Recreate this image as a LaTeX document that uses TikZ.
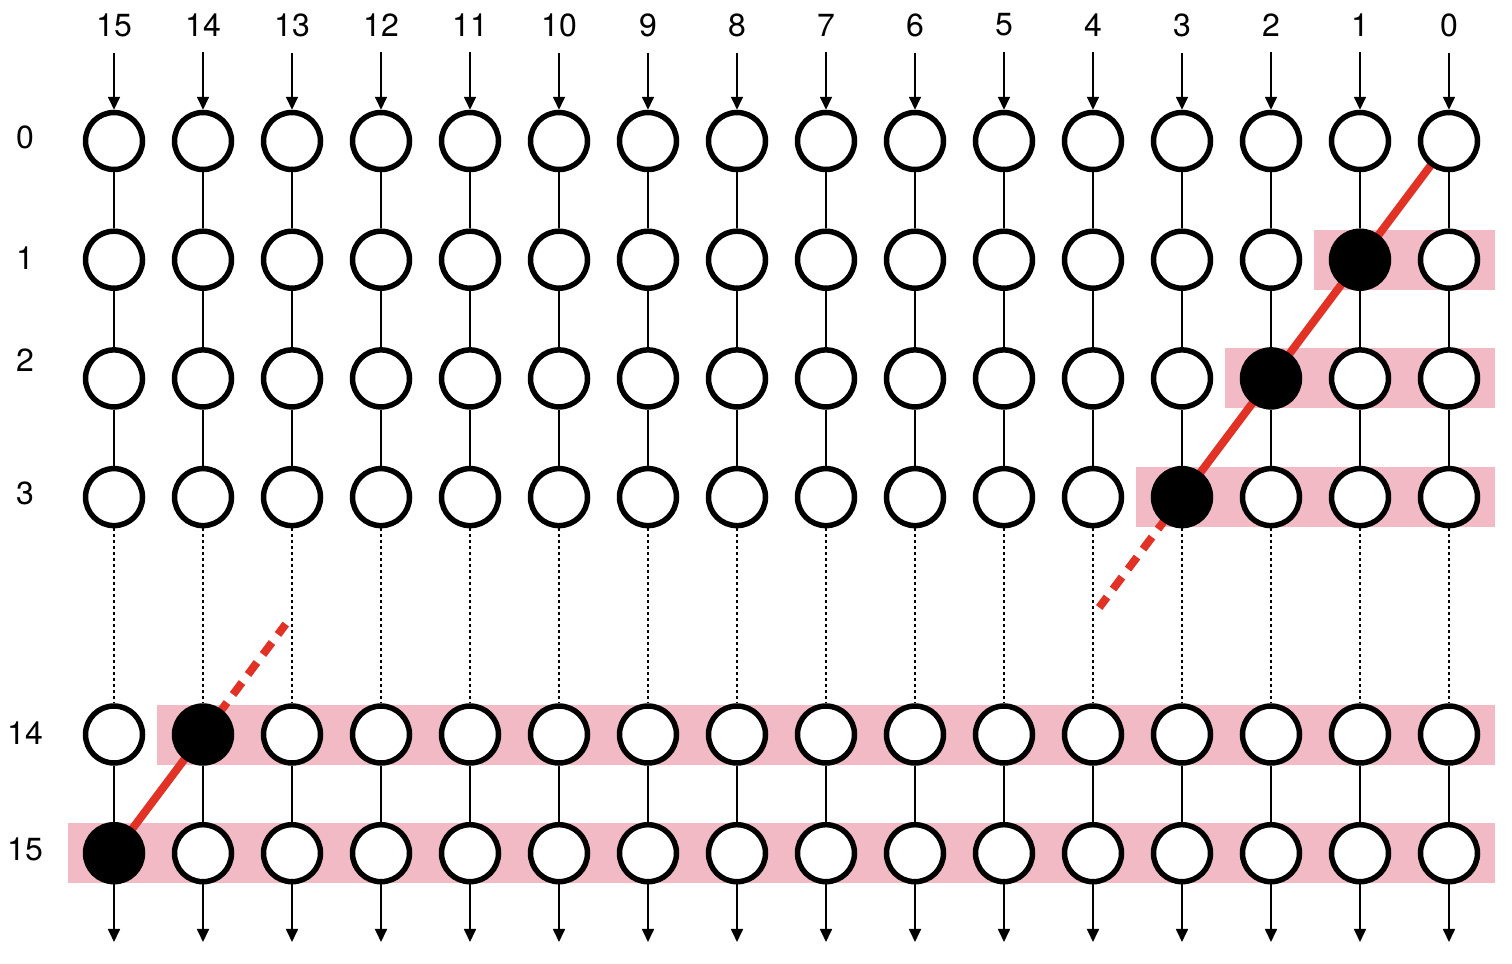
\documentclass[tikz,border=0pt]{standalone}
\usepackage{fontspec}
\setmainfont{TeX Gyre Heros}
\usepackage{tikz, xcolor}
\usetikzlibrary{shapes,arrows.meta,backgrounds}
\definecolor{bandpink}{RGB}{241,186,197}
\definecolor{hotred}{RGB}{226,50,38}

\begin{document}
\begin{tikzpicture}[x=44.5pt, y=59.35pt]
\tikzstyle{vertexw}=[circle, draw=black, fill=white, line width=2.75pt, minimum size=28.5pt, inner sep=0pt]
\tikzstyle{vertexb}=[vertexw, fill=black]
\tikzstyle{bitlabel}=[font=\fontsize{16}{19}\selectfont, inner sep=2pt]
\tikzstyle{drawstyle}=[line width=0.85pt]
\tikzstyle{dotstyle}=[line width=0.85pt, dash pattern=on 1.5pt off 1.5pt]
\tikzstyle{instyle}=[line width=0.85pt, shorten <=5.75pt, -{Triangle[length=6.5pt,width=6pt]}]
\tikzstyle{outstyle}=[line width=0.85pt, -{Triangle[length=6.5pt,width=6pt]}]
\tikzstyle{band}=[fill=bandpink]
\tikzstyle{redline}=[draw=hotred, line width=4pt]
\tikzstyle{reddash}=[redline, dash pattern=on 7.5pt off 5pt]

\useasboundingbox (-1.281,1.188) rectangle (15.708,-6.933);

\node[bitlabel] (L0) at (-1,0.03) {0};
\node[bitlabel] (L1) at (-1,-0.986) {1};
\node[bitlabel] (L2) at (-1,-1.845) {2};
\node[bitlabel] (L3) at (-1,-2.966) {3};
\node[bitlabel] (L14) at (-1,-4.987) {14};
\node[bitlabel] (L15) at (-1,-5.97) {15};

\node[bitlabel] (T15) at (0,0.977) {15};
\node[vertexw] (B15x0) at (0,0) {};
\node[vertexw] (B15x1) at (0,-1) {};
\node[vertexw] (B15x2) at (0,-2) {};
\node[vertexw] (B15x3) at (0,-3) {};
\node[vertexw] (B15x14) at (0,-5) {};
\node[vertexb] (B15x15) at (0,-6) {};
\coordinate (E15) at (0,-6.748);
\draw[instyle] (T15) -- (B15x0);
\draw[drawstyle] (B15x0) -- (B15x1);
\draw[drawstyle] (B15x1) -- (B15x2);
\draw[drawstyle] (B15x2) -- (B15x3);
\draw[dotstyle] (B15x3) -- (B15x14);
\draw[drawstyle] (B15x14) -- (B15x15);
\draw[outstyle] (B15x15) -- (E15);

\node[bitlabel] (T14) at (1,0.977) {14};
\node[vertexw] (B14x0) at (1,0) {};
\node[vertexw] (B14x1) at (1,-1) {};
\node[vertexw] (B14x2) at (1,-2) {};
\node[vertexw] (B14x3) at (1,-3) {};
\node[vertexb] (B14x14) at (1,-5) {};
\node[vertexw] (B14x15) at (1,-6) {};
\coordinate (E14) at (1,-6.748);
\draw[instyle] (T14) -- (B14x0);
\draw[drawstyle] (B14x0) -- (B14x1);
\draw[drawstyle] (B14x1) -- (B14x2);
\draw[drawstyle] (B14x2) -- (B14x3);
\draw[dotstyle] (B14x3) -- (B14x14);
\draw[drawstyle] (B14x14) -- (B14x15);
\draw[outstyle] (B14x15) -- (E14);

\node[bitlabel] (T13) at (2,0.977) {13};
\node[vertexw] (B13x0) at (2,0) {};
\node[vertexw] (B13x1) at (2,-1) {};
\node[vertexw] (B13x2) at (2,-2) {};
\node[vertexw] (B13x3) at (2,-3) {};
\node[vertexw] (B13x14) at (2,-5) {};
\node[vertexw] (B13x15) at (2,-6) {};
\coordinate (E13) at (2,-6.748);
\draw[instyle] (T13) -- (B13x0);
\draw[drawstyle] (B13x0) -- (B13x1);
\draw[drawstyle] (B13x1) -- (B13x2);
\draw[drawstyle] (B13x2) -- (B13x3);
\draw[dotstyle] (B13x3) -- (B13x14);
\draw[drawstyle] (B13x14) -- (B13x15);
\draw[outstyle] (B13x15) -- (E13);

\node[bitlabel] (T12) at (3,0.977) {12};
\node[vertexw] (B12x0) at (3,0) {};
\node[vertexw] (B12x1) at (3,-1) {};
\node[vertexw] (B12x2) at (3,-2) {};
\node[vertexw] (B12x3) at (3,-3) {};
\node[vertexw] (B12x14) at (3,-5) {};
\node[vertexw] (B12x15) at (3,-6) {};
\coordinate (E12) at (3,-6.748);
\draw[instyle] (T12) -- (B12x0);
\draw[drawstyle] (B12x0) -- (B12x1);
\draw[drawstyle] (B12x1) -- (B12x2);
\draw[drawstyle] (B12x2) -- (B12x3);
\draw[dotstyle] (B12x3) -- (B12x14);
\draw[drawstyle] (B12x14) -- (B12x15);
\draw[outstyle] (B12x15) -- (E12);

\node[bitlabel] (T11) at (4,0.977) {11};
\node[vertexw] (B11x0) at (4,0) {};
\node[vertexw] (B11x1) at (4,-1) {};
\node[vertexw] (B11x2) at (4,-2) {};
\node[vertexw] (B11x3) at (4,-3) {};
\node[vertexw] (B11x14) at (4,-5) {};
\node[vertexw] (B11x15) at (4,-6) {};
\coordinate (E11) at (4,-6.748);
\draw[instyle] (T11) -- (B11x0);
\draw[drawstyle] (B11x0) -- (B11x1);
\draw[drawstyle] (B11x1) -- (B11x2);
\draw[drawstyle] (B11x2) -- (B11x3);
\draw[dotstyle] (B11x3) -- (B11x14);
\draw[drawstyle] (B11x14) -- (B11x15);
\draw[outstyle] (B11x15) -- (E11);

\node[bitlabel] (T10) at (5,0.977) {10};
\node[vertexw] (B10x0) at (5,0) {};
\node[vertexw] (B10x1) at (5,-1) {};
\node[vertexw] (B10x2) at (5,-2) {};
\node[vertexw] (B10x3) at (5,-3) {};
\node[vertexw] (B10x14) at (5,-5) {};
\node[vertexw] (B10x15) at (5,-6) {};
\coordinate (E10) at (5,-6.748);
\draw[instyle] (T10) -- (B10x0);
\draw[drawstyle] (B10x0) -- (B10x1);
\draw[drawstyle] (B10x1) -- (B10x2);
\draw[drawstyle] (B10x2) -- (B10x3);
\draw[dotstyle] (B10x3) -- (B10x14);
\draw[drawstyle] (B10x14) -- (B10x15);
\draw[outstyle] (B10x15) -- (E10);

\node[bitlabel] (T9) at (6,0.977) {9};
\node[vertexw] (B9x0) at (6,0) {};
\node[vertexw] (B9x1) at (6,-1) {};
\node[vertexw] (B9x2) at (6,-2) {};
\node[vertexw] (B9x3) at (6,-3) {};
\node[vertexw] (B9x14) at (6,-5) {};
\node[vertexw] (B9x15) at (6,-6) {};
\coordinate (E9) at (6,-6.748);
\draw[instyle] (T9) -- (B9x0);
\draw[drawstyle] (B9x0) -- (B9x1);
\draw[drawstyle] (B9x1) -- (B9x2);
\draw[drawstyle] (B9x2) -- (B9x3);
\draw[dotstyle] (B9x3) -- (B9x14);
\draw[drawstyle] (B9x14) -- (B9x15);
\draw[outstyle] (B9x15) -- (E9);

\node[bitlabel] (T8) at (7,0.977) {8};
\node[vertexw] (B8x0) at (7,0) {};
\node[vertexw] (B8x1) at (7,-1) {};
\node[vertexw] (B8x2) at (7,-2) {};
\node[vertexw] (B8x3) at (7,-3) {};
\node[vertexw] (B8x14) at (7,-5) {};
\node[vertexw] (B8x15) at (7,-6) {};
\coordinate (E8) at (7,-6.748);
\draw[instyle] (T8) -- (B8x0);
\draw[drawstyle] (B8x0) -- (B8x1);
\draw[drawstyle] (B8x1) -- (B8x2);
\draw[drawstyle] (B8x2) -- (B8x3);
\draw[dotstyle] (B8x3) -- (B8x14);
\draw[drawstyle] (B8x14) -- (B8x15);
\draw[outstyle] (B8x15) -- (E8);

\node[bitlabel] (T7) at (8,0.977) {7};
\node[vertexw] (B7x0) at (8,0) {};
\node[vertexw] (B7x1) at (8,-1) {};
\node[vertexw] (B7x2) at (8,-2) {};
\node[vertexw] (B7x3) at (8,-3) {};
\node[vertexw] (B7x14) at (8,-5) {};
\node[vertexw] (B7x15) at (8,-6) {};
\coordinate (E7) at (8,-6.748);
\draw[instyle] (T7) -- (B7x0);
\draw[drawstyle] (B7x0) -- (B7x1);
\draw[drawstyle] (B7x1) -- (B7x2);
\draw[drawstyle] (B7x2) -- (B7x3);
\draw[dotstyle] (B7x3) -- (B7x14);
\draw[drawstyle] (B7x14) -- (B7x15);
\draw[outstyle] (B7x15) -- (E7);

\node[bitlabel] (T6) at (9,0.977) {6};
\node[vertexw] (B6x0) at (9,0) {};
\node[vertexw] (B6x1) at (9,-1) {};
\node[vertexw] (B6x2) at (9,-2) {};
\node[vertexw] (B6x3) at (9,-3) {};
\node[vertexw] (B6x14) at (9,-5) {};
\node[vertexw] (B6x15) at (9,-6) {};
\coordinate (E6) at (9,-6.748);
\draw[instyle] (T6) -- (B6x0);
\draw[drawstyle] (B6x0) -- (B6x1);
\draw[drawstyle] (B6x1) -- (B6x2);
\draw[drawstyle] (B6x2) -- (B6x3);
\draw[dotstyle] (B6x3) -- (B6x14);
\draw[drawstyle] (B6x14) -- (B6x15);
\draw[outstyle] (B6x15) -- (E6);

\node[bitlabel] (T5) at (10,0.977) {5};
\node[vertexw] (B5x0) at (10,0) {};
\node[vertexw] (B5x1) at (10,-1) {};
\node[vertexw] (B5x2) at (10,-2) {};
\node[vertexw] (B5x3) at (10,-3) {};
\node[vertexw] (B5x14) at (10,-5) {};
\node[vertexw] (B5x15) at (10,-6) {};
\coordinate (E5) at (10,-6.748);
\draw[instyle] (T5) -- (B5x0);
\draw[drawstyle] (B5x0) -- (B5x1);
\draw[drawstyle] (B5x1) -- (B5x2);
\draw[drawstyle] (B5x2) -- (B5x3);
\draw[dotstyle] (B5x3) -- (B5x14);
\draw[drawstyle] (B5x14) -- (B5x15);
\draw[outstyle] (B5x15) -- (E5);

\node[bitlabel] (T4) at (11,0.977) {4};
\node[vertexw] (B4x0) at (11,0) {};
\node[vertexw] (B4x1) at (11,-1) {};
\node[vertexw] (B4x2) at (11,-2) {};
\node[vertexw] (B4x3) at (11,-3) {};
\node[vertexw] (B4x14) at (11,-5) {};
\node[vertexw] (B4x15) at (11,-6) {};
\coordinate (E4) at (11,-6.748);
\draw[instyle] (T4) -- (B4x0);
\draw[drawstyle] (B4x0) -- (B4x1);
\draw[drawstyle] (B4x1) -- (B4x2);
\draw[drawstyle] (B4x2) -- (B4x3);
\draw[dotstyle] (B4x3) -- (B4x14);
\draw[drawstyle] (B4x14) -- (B4x15);
\draw[outstyle] (B4x15) -- (E4);

\node[bitlabel] (T3) at (12,0.977) {3};
\node[vertexw] (B3x0) at (12,0) {};
\node[vertexw] (B3x1) at (12,-1) {};
\node[vertexw] (B3x2) at (12,-2) {};
\node[vertexb] (B3x3) at (12,-3) {};
\node[vertexw] (B3x14) at (12,-5) {};
\node[vertexw] (B3x15) at (12,-6) {};
\coordinate (E3) at (12,-6.748);
\draw[instyle] (T3) -- (B3x0);
\draw[drawstyle] (B3x0) -- (B3x1);
\draw[drawstyle] (B3x1) -- (B3x2);
\draw[drawstyle] (B3x2) -- (B3x3);
\draw[dotstyle] (B3x3) -- (B3x14);
\draw[drawstyle] (B3x14) -- (B3x15);
\draw[outstyle] (B3x15) -- (E3);

\node[bitlabel] (T2) at (13,0.977) {2};
\node[vertexw] (B2x0) at (13,0) {};
\node[vertexw] (B2x1) at (13,-1) {};
\node[vertexb] (B2x2) at (13,-2) {};
\node[vertexw] (B2x3) at (13,-3) {};
\node[vertexw] (B2x14) at (13,-5) {};
\node[vertexw] (B2x15) at (13,-6) {};
\coordinate (E2) at (13,-6.748);
\draw[instyle] (T2) -- (B2x0);
\draw[drawstyle] (B2x0) -- (B2x1);
\draw[drawstyle] (B2x1) -- (B2x2);
\draw[drawstyle] (B2x2) -- (B2x3);
\draw[dotstyle] (B2x3) -- (B2x14);
\draw[drawstyle] (B2x14) -- (B2x15);
\draw[outstyle] (B2x15) -- (E2);

\node[bitlabel] (T1) at (14,0.977) {1};
\node[vertexw] (B1x0) at (14,0) {};
\node[vertexb] (B1x1) at (14,-1) {};
\node[vertexw] (B1x2) at (14,-2) {};
\node[vertexw] (B1x3) at (14,-3) {};
\node[vertexw] (B1x14) at (14,-5) {};
\node[vertexw] (B1x15) at (14,-6) {};
\coordinate (E1) at (14,-6.748);
\draw[instyle] (T1) -- (B1x0);
\draw[drawstyle] (B1x0) -- (B1x1);
\draw[drawstyle] (B1x1) -- (B1x2);
\draw[drawstyle] (B1x2) -- (B1x3);
\draw[dotstyle] (B1x3) -- (B1x14);
\draw[drawstyle] (B1x14) -- (B1x15);
\draw[outstyle] (B1x15) -- (E1);

\node[bitlabel] (T0) at (15,0.977) {0};
\node[vertexw] (B0x0) at (15,0) {};
\node[vertexw] (B0x1) at (15,-1) {};
\node[vertexw] (B0x2) at (15,-2) {};
\node[vertexw] (B0x3) at (15,-3) {};
\node[vertexw] (B0x14) at (15,-5) {};
\node[vertexw] (B0x15) at (15,-6) {};
\coordinate (E0) at (15,-6.748);
\draw[instyle] (T0) -- (B0x0);
\draw[drawstyle] (B0x0) -- (B0x1);
\draw[drawstyle] (B0x1) -- (B0x2);
\draw[drawstyle] (B0x2) -- (B0x3);
\draw[dotstyle] (B0x3) -- (B0x14);
\draw[drawstyle] (B0x14) -- (B0x15);
\draw[outstyle] (B0x15) -- (E0);

% bands and the red diagonal go behind the circles
\coordinate (D4) at (11.07,-3.93);
\coordinate (D13) at (1.93,-4.07);
\begin{pgfonlayer}{background}
\fill[band] ([xshift=-23pt,yshift=15pt]B1x1.center) rectangle ([xshift=23pt,yshift=-15pt]B0x1.center);
\fill[band] ([xshift=-23pt,yshift=15pt]B2x2.center) rectangle ([xshift=23pt,yshift=-15pt]B0x2.center);
\fill[band] ([xshift=-23pt,yshift=15pt]B3x3.center) rectangle ([xshift=23pt,yshift=-15pt]B0x3.center);
\fill[band] ([xshift=-23pt,yshift=15pt]B14x14.center) rectangle ([xshift=23pt,yshift=-15pt]B0x14.center);
\fill[band] ([xshift=-23pt,yshift=15pt]B15x15.center) rectangle ([xshift=23pt,yshift=-15pt]B0x15.center);
\draw[redline] (B0x0.center) -- (B3x3.center);
\draw[reddash] (B3x3.center) -- (D4);
\draw[redline] (B15x15.center) -- (B14x14.center);
\draw[reddash] (B14x14.center) -- (D13);
\end{pgfonlayer}
\end{tikzpicture}
\end{document}
